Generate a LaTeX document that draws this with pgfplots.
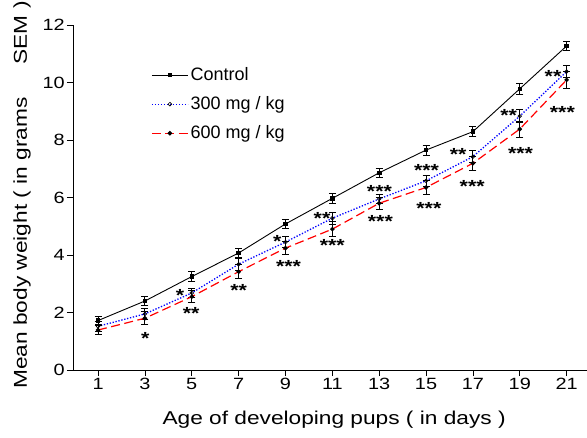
\documentclass[border=0pt]{standalone}
\usepackage{pgfplots}
\pgfplotsset{compat=1.18}
\usepackage{fontspec}
\setmainfont{Liberation Sans}
\newfontfamily\wide[FakeStretch=1.22]{Liberation Sans}
\begin{document}
\begin{tikzpicture}[
  star/.style={anchor=north, inner sep=0pt, yshift=3pt, font=\wide\bfseries\fontsize{17.5}{17.5}\selectfont}]
\begin{axis}[
  scale only axis,
  width=514pt, height=345pt,
  xmin=-0.07, xmax=21.87,
  ymin=0, ymax=12,
  axis x line=bottom, axis y line=left,
  axis line style={-, line width=0.8pt},
  xtick={1,3,...,21}, ytick={0,2,...,12},
  tick align=outside,
  major tick length=6pt,
  tick style={line width=0.8pt, black},
  /pgf/number format/assume math mode=true,
  ticklabel style={font=\wide\fontsize{16.3}{16.3}\selectfont},
  xticklabel style={inner sep=2pt},
  yticklabel style={inner sep=2pt},
  xlabel={Age of developing pups ( in days )},
  ylabel={Mean body weight ( in grams \hspace{1.1em} SEM )},
  label style={font=\wide\fontsize{18.6}{18.6}\selectfont},
  xlabel style={at={(axis description cs:0.508,-0.1594)}, anchor=base},
  ylabel style={at={(axis description cs:-0.0992,0.507)}, anchor=center},
  legend style={at={(0.146,0.888)}, anchor=north west, draw=none, fill=none,
     font=\fontsize{18}{18}\selectfont, row sep=10.5pt},
  legend cell align=left,
  legend image code/.code={
     \draw[#1] (0pt,0pt) -- (36pt,0pt);
     \draw[#1, solid] plot coordinates {(18pt,0pt)};
  },
  error bars/error bar style={black, solid, line width=0.9pt},
  error bars/error mark options={rotate=90, mark size=3.5pt, line width=0.9pt, black},
]
\addplot[black, line width=0.9pt, mark=square*, mark size=1.8pt,
  error bars/.cd, y dir=both, y explicit]
  coordinates {
  (1,1.72) +- (0,0.15)
  (3,2.40) +- (0,0.17)
  (5,3.25) +- (0,0.17)
  (7,4.07) +- (0,0.15)
  (9,5.08) +- (0,0.17)
  (11,5.97) +- (0,0.17)
  (13,6.86) +- (0,0.15)
  (15,7.65) +- (0,0.17)
  (17,8.29) +- (0,0.17)
  (19,9.78) +- (0,0.2)
  (21,11.27) +- (0,0.17)
  };
\addlegendentry{Control}
\addplot[blue, line width=1.3pt, dash pattern=on 1.3pt off 1.7pt, mark=o, mark size=1.8pt, mark options={black, solid, line width=0.7pt, fill=white},
  error bars/.cd, y dir=both, y explicit]
  coordinates {
  (1,1.52) +- (0,0.17)
  (3,1.95) +- (0,0.2)
  (5,2.68) +- (0,0.17)
  (7,3.68) +- (0,0.2)
  (9,4.45) +- (0,0.2)
  (11,5.28) +- (0,0.2)
  (13,5.95) +- (0,0.17)
  (15,6.58) +- (0,0.2)
  (17,7.42) +- (0,0.2)
  (19,8.83) +- (0,0.22)
  (21,10.38) +- (0,0.2)
  };
\addlegendentry{300 mg / kg}
\addplot[red, line width=1.2pt, dash pattern=on 9pt off 4.5pt, mark=*, mark size=1.6pt, mark options={black, solid},
  error bars/.cd, y dir=both, y explicit]
  coordinates {
  (1,1.39) +- (0,0.17)
  (3,1.80) +- (0,0.22)
  (5,2.55) +- (0,0.2)
  (7,3.42) +- (0,0.25)
  (9,4.24) +- (0,0.22)
  (11,4.90) +- (0,0.25)
  (13,5.80) +- (0,0.2)
  (15,6.35) +- (0,0.25)
  (17,7.19) +- (0,0.25)
  (19,8.38) +- (0,0.28)
  (21,10.09) +- (0,0.28)
  };
\addlegendentry{600 mg / kg}
\node[star] at (axis cs:3.01,1.22) {*};
\node[star] at (axis cs:4.50,2.71) {*};
\node[star] at (axis cs:4.97,2.09) {**};
\node[star] at (axis cs:7.00,2.88) {**};
\node[star] at (axis cs:8.65,4.59) {*};
\node[star] at (axis cs:9.13,3.71) {***};
\node[star] at (axis cs:10.56,5.39) {**};
\node[star] at (axis cs:11.00,4.46) {***};
\node[star] at (axis cs:13.01,6.32) {***};
\node[star] at (axis cs:13.05,5.28) {***};
\node[star] at (axis cs:15.02,7.04) {***};
\node[star] at (axis cs:15.12,5.74) {***};
\node[star] at (axis cs:16.37,7.62) {**};
\node[star] at (axis cs:16.97,6.49) {***};
\node[star] at (axis cs:18.53,8.98) {**};
\node[star] at (axis cs:19.03,7.63) {***};
\node[star] at (axis cs:20.42,10.32) {**};
\node[star] at (axis cs:20.82,9.08) {***};
\coordinate (O) at (rel axis cs:0,0);
\end{axis}
\pgfresetboundingbox
\path[use as bounding box] (O) ++(-73pt,-67pt) rectangle ++(587pt,437pt);
\end{tikzpicture}
\end{document}
